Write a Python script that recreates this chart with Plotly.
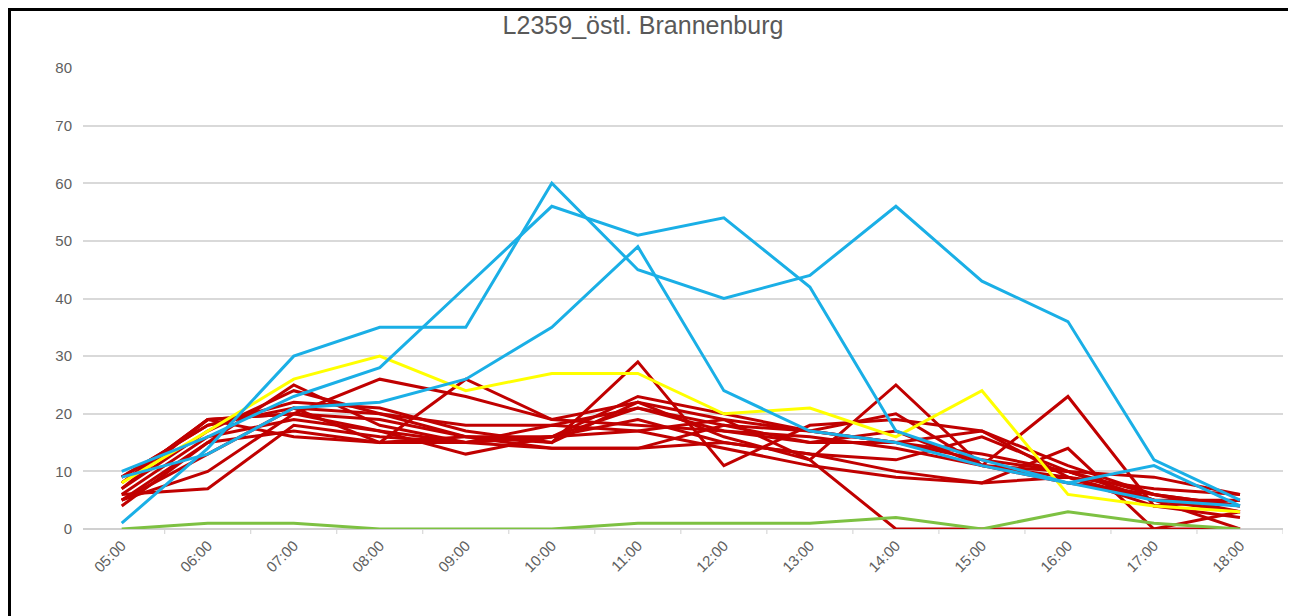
import plotly.graph_objects as go

hours = ["05:00", "06:00", "07:00", "08:00", "09:00", "10:00", "11:00",
         "12:00", "13:00", "14:00", "15:00", "16:00", "17:00", "18:00"]

blue_1 = [1, 14, 30, 35, 35, 60, 45, 40, 44, 56, 43, 36, 12, 5]
blue_2 = [10, 16, 23, 28, 42, 56, 51, 54, 42, 17, 12, 8, 5, 4]
blue_3 = [9, 13, 21, 22, 26, 35, 49, 24, 17, 15, 11, 8, 11, 4]
yellow_1 = [8, 17, 26, 30, 24, 27, 27, 20, 21, 16, 24, 6, 4, 3]
green_1 = [0, 1, 1, 0, 0, 0, 1, 1, 1, 2, 0, 3, 1, 0]

red_1 = [6, 7, 18, 16, 15, 14, 14, 18, 17, 15, 12, 10, 5, 3]
red_2 = [5, 10, 20, 17, 15, 16, 21, 17, 16, 14, 11, 9, 4, 2]
red_3 = [8, 19, 20, 26, 23, 19, 22, 19, 17, 20, 11, 8, 6, 4]
red_4 = [4, 15, 25, 18, 15, 16, 23, 20, 17, 15, 13, 10, 5, 5]
red_5 = [7, 17, 24, 20, 16, 15, 22, 16, 12, 25, 11, 10, 6, 3]
red_6 = [5, 13, 21, 15, 26, 19, 18, 17, 15, 17, 11, 23, 4, 5]
red_7 = [9, 18, 22, 21, 17, 15, 29, 11, 18, 19, 17, 11, 6, 4]
red_8 = [6, 16, 19, 17, 13, 16, 17, 19, 12, 0, 0, 0, 0, 0]
red_9 = [7, 19, 20, 19, 16, 14, 14, 15, 13, 10, 8, 9, 7, 6]
red_10 = [8, 19, 16, 15, 15, 18, 17, 14, 11, 9, 8, 14, 0, 3]
red_11 = [5, 15, 17, 15, 16, 16, 19, 15, 13, 12, 16, 10, 9, 6]
red_12 = [9, 18, 21, 20, 18, 18, 21, 18, 15, 15, 17, 9, 5, 0]

BLUE = "#1AAFE6"
YELLOW = "#FFFF00"
GREEN = "#7DC142"
RED = "#C00000"

series = [
    (red_1, RED), (red_2, RED), (red_3, RED), (red_4, RED), (red_5, RED),
    (red_6, RED), (red_7, RED), (red_8, RED), (red_9, RED), (red_10, RED),
    (red_11, RED), (red_12, RED),
    (green_1, GREEN), (yellow_1, YELLOW),
    (blue_1, BLUE), (blue_2, BLUE), (blue_3, BLUE),
]

W, H = 1288, 608          # page body has an 8px margin
L, R, T, B = 75, 13, 60, 87
PW, PH = W - L - R, H - T - B

fig = go.Figure()
for vals, col in series:
    fig.add_trace(go.Scatter(x=list(range(len(hours))), y=vals, mode="lines",
                             line=dict(color=col, width=3), showlegend=False,
                             hoverinfo="skip"))

fig.update_layout(
    width=W, height=H,
    margin=dict(l=L, r=R, t=T, b=B),
    paper_bgcolor="white", plot_bgcolor="white",
    title=dict(text="L2359_östl. Brannenburg", x=(643 - 8) / W, xanchor="center",
               y=1 - 17 / H, yanchor="middle",
               font=dict(family="Liberation Sans, Arial", size=25, color="#595959")),
    font=dict(family="Liberation Sans, Arial", size=15, color="#595959"),
    xaxis=dict(range=[-0.45, 13.5], tickmode="array",
               tickvals=list(range(len(hours))), ticktext=hours,
               tickangle=-45, showgrid=False, zeroline=False,
               showline=False, ticks="", ticklabelstandoff=4,
               tickfont=dict(size=15, color="#606060")),
    yaxis=dict(range=[0, 80], dtick=10, showgrid=True, gridcolor="#D9D9D9",
               gridwidth=2, zeroline=True, zerolinecolor="#D0D0D0", zerolinewidth=2,
               showline=False, ticks="", ticklabelstandoff=10,
               tickfont=dict(size=15, color="#606060")),
    shapes=[dict(type="rect", xref="paper", yref="paper",
                 x0=-(L - 1.5) / PW, x1=1 + (R - 1.5) / PW,
                 y0=-(B + 10) / PH, y1=1 + (T - 1.5) / PH,
                 line=dict(color="black", width=3), fillcolor="rgba(0,0,0,0)", layer="above")],
)

# small boundary ticks on the zero line
for i in range(len(hours) + 1):
    fig.add_shape(type="line", xref="x", yref="paper", x0=i - 0.5, x1=i - 0.5,
                  y0=0, y1=-5 / PH, line=dict(color="#D0D0D0", width=1), layer="below")

fig.write_html("out.html")
